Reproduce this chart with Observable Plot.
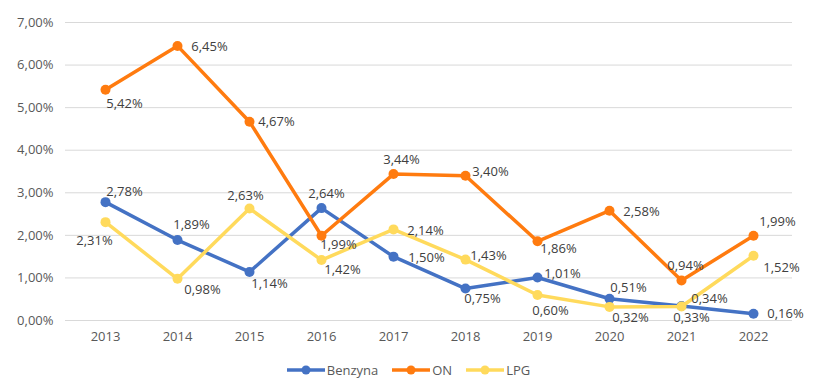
<!DOCTYPE html>
<html>
<head>
<meta charset="utf-8">
<script src="https://cdn.jsdelivr.net/npm/d3@7"></script>
<script src="https://cdn.jsdelivr.net/npm/@observablehq/plot@0.6"></script>
<style>
  body { margin: 0; background: #fff; font-family: "Open Sans", sans-serif; }
  #chart svg { display: block; }
  .legend { display: flex; justify-content: center; align-items: center; height: 20px; margin-top: 10px; font-size: 13px; color: #595959; gap: 14px; }
  .legend .item { display: flex; align-items: center; gap: 2px; }
</style>
</head>
<body>
<div id="chart"></div>
<div class="legend" id="legend"></div>
<script>
const years = ["2013","2014","2015","2016","2017","2018","2019","2020","2021","2022"];
const benzyna = [2.78, 1.89, 1.14, 2.64, 1.50, 0.75, 1.01, 0.51, 0.34, 0.16];
const on = [5.42, 6.45, 4.67, 1.99, 3.44, 3.40, 1.86, 2.58, 0.94, 1.99];
const lpg = [2.31, 0.98, 2.63, 1.42, 2.14, 1.43, 0.60, 0.32, 0.33, 1.52];
const seriesNames = ["Benzyna", "ON", "LPG"];
const yTicks = [0, 1, 2, 3, 4, 5, 6, 7];

// label placement offsets (style, not data)
const labelOffsets = {
  Benzyna: [[19,-10],[14,-15],[20,12],[5,-14],[33,1],[17,10],[25,-4],[19,-11],[28,-7],[32,0]],
  ON: [[19,14],[32,1],[27,0],[17,9],[8,-14],[25,-4],[21,8],[32,1],[4,-15],[24,-14]],
  LPG: [[-11,19],[25,11],[-4,-13],[21,10],[32,1],[23,-4],[13,16],[21,11],[10,11],[28,12]]
};
const colors = {Benzyna: "#4472C4", ON: "#FF7B0F", LPG: "#FFDA5C"};

const valuesBy = {Benzyna: benzyna, ON: on, LPG: lpg};
const fmt = v => v.toFixed(2).replace(".", ",") + "%";

const marks = [
  Plot.gridY(yTicks, {stroke: "#d9d9d9", strokeOpacity: 1, strokeWidth: 1})
];
for (const s of seriesNames) {
  const data = years.map((y, i) => ({year: y, value: valuesBy[s][i], series: s}));
  marks.push(Plot.line(data, {x: "year", y: "value", stroke: colors[s], strokeWidth: 3.5}));
  marks.push(Plot.dot(data, {x: "year", y: "value", fill: colors[s], r: 5}));
}
for (const s of seriesNames) {
  years.forEach((y, i) => {
    const [dx, dy] = labelOffsets[s][i];
    marks.push(Plot.text([{year: y, value: valuesBy[s][i]}], {
      x: "year", y: "value", text: d => fmt(d.value), dx, dy,
      fill: "#404040", fontSize: 13
    }));
  });
}
marks.push(Plot.axisX({tickSize: 0, tickPadding: 11, fontSize: 13, color: "#595959", label: null}));
marks.push(Plot.axisY(yTicks, {tickSize: 0, tickPadding: 12, fontSize: 13, tickFormat: fmt, color: "#595959", label: null}));

const plot = Plot.plot({
  width: 817,
  height: 350,
  marginTop: 22,
  marginBottom: 30,
  marginLeft: 65,
  marginRight: 25,
  style: {fontFamily: "Open Sans", fontSize: "13px", color: "#595959", background: "#fff"},
  x: {type: "point", domain: years, padding: 0.5, label: null},
  y: {domain: [0, 7], label: null},
  marks
});
document.getElementById("chart").appendChild(plot);

const legend = document.getElementById("legend");
for (const s of seriesNames) {
  const item = document.createElement("div");
  item.className = "item";
  item.innerHTML = `<svg width="38" height="12"><line x1="0" x2="38" y1="6" y2="6" stroke="${colors[s]}" stroke-width="3.5"/><circle cx="19" cy="6" r="4.5" fill="${colors[s]}"/></svg><span>${s}</span>`;
  legend.appendChild(item);
}
</script>
</body>
</html>
